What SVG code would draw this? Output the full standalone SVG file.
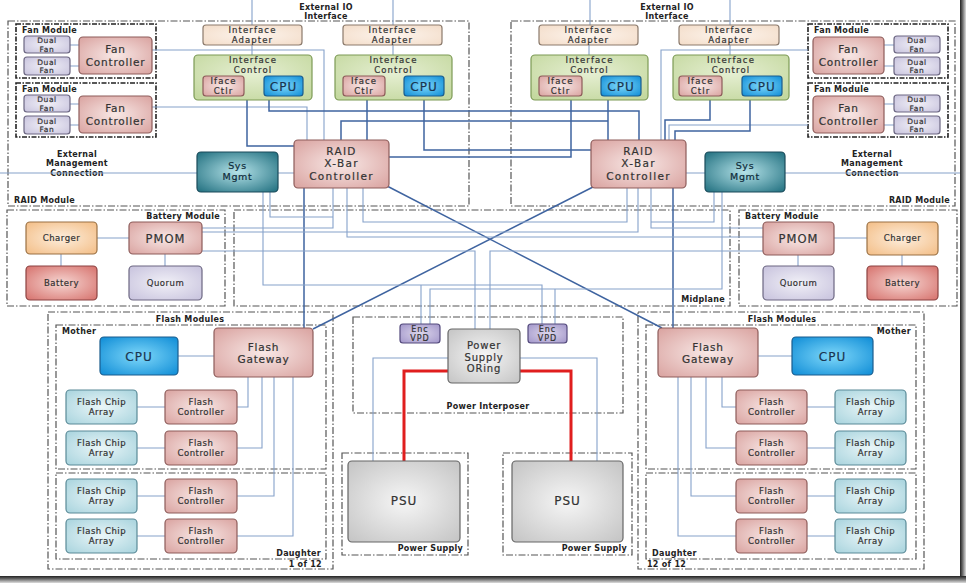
<svg xmlns="http://www.w3.org/2000/svg" width="967" height="586" viewBox="0 0 967 586">
<defs>
<radialGradient id="gPink" cx="50%" cy="50%" r="70%"><stop offset="0" stop-color="#f8e8e6"/><stop offset="1" stop-color="#d9a29f"/></radialGradient>
<radialGradient id="gLav" cx="50%" cy="50%" r="70%"><stop offset="0" stop-color="#f1f0f7"/><stop offset="1" stop-color="#c7c2dd"/></radialGradient>
<radialGradient id="gPeach" cx="50%" cy="50%" r="70%"><stop offset="0" stop-color="#fdf5ee"/><stop offset="1" stop-color="#f3dcc8"/></radialGradient>
<radialGradient id="gGreen" cx="50%" cy="40%" r="70%"><stop offset="0" stop-color="#e6efd3"/><stop offset="1" stop-color="#c4d89f"/></radialGradient>
<radialGradient id="gBlue" cx="50%" cy="50%" r="70%"><stop offset="0" stop-color="#7fd8fa"/><stop offset="1" stop-color="#0e8cd6"/></radialGradient>
<radialGradient id="gTeal" cx="50%" cy="50%" r="70%"><stop offset="0" stop-color="#b4e2e8"/><stop offset="1" stop-color="#1f6e7e"/></radialGradient>
<radialGradient id="gOrange" cx="50%" cy="50%" r="70%"><stop offset="0" stop-color="#fdeedd"/><stop offset="1" stop-color="#f3bd85"/></radialGradient>
<radialGradient id="gRed" cx="50%" cy="50%" r="70%"><stop offset="0" stop-color="#f6d6d2"/><stop offset="1" stop-color="#d6716c"/></radialGradient>
<radialGradient id="gCyan" cx="50%" cy="50%" r="70%"><stop offset="0" stop-color="#eaf6f8"/><stop offset="1" stop-color="#a7d3dd"/></radialGradient>
<radialGradient id="gGray" cx="50%" cy="50%" r="70%"><stop offset="0" stop-color="#f6f6f6"/><stop offset="1" stop-color="#c4c4c4"/></radialGradient>
<radialGradient id="gVpd" cx="50%" cy="50%" r="70%"><stop offset="0" stop-color="#dcd6ec"/><stop offset="1" stop-color="#a195c9"/></radialGradient>
<linearGradient id="gFrameB" x1="0" y1="0" x2="0" y2="1"><stop offset="0" stop-color="#222"/><stop offset="0.4" stop-color="#666"/><stop offset="1" stop-color="#ddd"/></linearGradient>
<linearGradient id="gFrameR" x1="0" y1="0" x2="1" y2="0"><stop offset="0" stop-color="#222"/><stop offset="0.4" stop-color="#666"/><stop offset="1" stop-color="#ddd"/></linearGradient>
</defs>
<style>
text{font-family:"DejaVu Sans","Liberation Sans",sans-serif;fill:#333;text-anchor:middle;stroke:#333;stroke-width:0.2}
.lbl{font-size:8px;font-weight:bold;fill:#222;stroke:none;letter-spacing:0.3px}
.st{text-anchor:start}
.en{text-anchor:end}
.s85{font-size:8.5px;letter-spacing:1.1px}
.df{font-size:7.5px;letter-spacing:0.6px}
.vp{font-size:8px;letter-spacing:1px}
.b9{font-size:8.5px;letter-spacing:0.5px}
.b11{font-size:10.5px;letter-spacing:0.8px}
.b12{font-size:10.5px;letter-spacing:1.3px}
.pm{font-size:11.5px;letter-spacing:1px}
.cpu{font-size:12px;letter-spacing:1px;fill:#1a3550;stroke:#1a3550}
.sm{font-size:9.5px;letter-spacing:0.7px;fill:#0f2c3a;stroke:#0f2c3a}
.pink{fill:url(#gPink);stroke:#8d5c5a;stroke-width:1.2}
.lav{fill:url(#gLav);stroke:#6c6782;stroke-width:1.2}
.peach{fill:url(#gPeach);stroke:#8b7a6c;stroke-width:1.2}
.green{fill:url(#gGreen);stroke:#7c9a55;stroke-width:1.2}
.blue{fill:url(#gBlue);stroke:#1b5d8e;stroke-width:1.2}
.teal{fill:url(#gTeal);stroke:#1b4b5a;stroke-width:1.2}
.orange{fill:url(#gOrange);stroke:#9a7144;stroke-width:1.2}
.red{fill:url(#gRed);stroke:#8c4342;stroke-width:1.2}
.cyan{fill:url(#gCyan);stroke:#5a8a97;stroke-width:1.2}
.gray{fill:url(#gGray);stroke:#666;stroke-width:1.2}
.vpd{fill:url(#gVpd);stroke:#544a7c;stroke-width:1.2}
.cont{fill:none;stroke:#555;stroke-width:1.2;stroke-dasharray:7 2 1.5 2}
.fan{fill:none;stroke:#222;stroke-width:1.6;stroke-dasharray:5 1.5 1.5 1.5}
.bus{fill:none;stroke:#3f64a0;stroke-width:1.5}
.thin{fill:none;stroke:#86a2ca;stroke-width:1.1}
.pwr{fill:none;stroke:#e01e1e;stroke-width:3}
</style>
<rect width="967" height="586" fill="#fff"/>

<g id="containers">
<rect class="cont" x="8" y="21" width="461" height="185"/>
<rect class="cont" x="511" y="21" width="444" height="185"/>
<text class="lbl" x="326" y="10">External IO</text><text class="lbl" x="326" y="19">Interface</text>
<text class="lbl" x="667" y="10">External IO</text><text class="lbl" x="667" y="19">Interface</text>
<text class="lbl st" x="14" y="203">RAID Module</text>
<text class="lbl en" x="950" y="203">RAID Module</text>
<text class="lbl" x="77" y="156.5">External</text><text class="lbl" x="77" y="166">Management</text><text class="lbl" x="77" y="175.5">Connection</text>
<text class="lbl" x="872" y="156.5">External</text><text class="lbl" x="872" y="166">Management</text><text class="lbl" x="872" y="175.5">Connection</text>
<rect class="fan" x="16" y="24" width="140" height="54"/><text class="lbl st" x="22" y="33">Fan Module</text>
<rect class="fan" x="16" y="83" width="140" height="54"/><text class="lbl st" x="22" y="92">Fan Module</text>
<rect class="fan" x="808" y="24" width="140" height="54"/><text class="lbl st" x="814" y="33">Fan Module</text>
<rect class="fan" x="808" y="83" width="140" height="54"/><text class="lbl st" x="814" y="92">Fan Module</text>
<rect class="cont" x="7" y="210" width="218" height="96"/><text class="lbl en" x="220" y="219">Battery Module</text>
<rect class="cont" x="739" y="210" width="218" height="96"/><text class="lbl st" x="745" y="219">Battery Module</text>
<rect class="cont" x="234" y="210" width="496" height="96"/><text class="lbl en" x="725" y="302">Midplane</text>
<rect class="cont" x="48" y="312" width="285" height="257"/><text class="lbl" x="190" y="322">Flash Modules</text>
<rect class="cont" x="56" y="325" width="270" height="144"/><text class="lbl st" x="62" y="334">Mother</text>
<rect class="cont" x="56" y="473" width="270" height="86"/><text class="lbl en" x="321" y="556">Daughter</text>
<text class="lbl en" x="322" y="567">1 of 12</text>
<rect class="cont" x="638" y="312" width="286" height="257"/><text class="lbl" x="782" y="322">Flash Modules</text>
<rect class="cont" x="646" y="325" width="270" height="144"/><text class="lbl en" x="911" y="334">Mother</text>
<rect class="cont" x="646" y="473" width="270" height="86"/><text class="lbl st" x="652" y="556">Daughter</text>
<text class="lbl st" x="647" y="567">12 of 12</text>
<rect class="cont" x="353" y="317" width="270" height="96"/><text class="lbl" x="488" y="409">Power Interposer</text>
<rect class="cont" x="342" y="453" width="126" height="102"/><text class="lbl en" x="463" y="551">Power Supply</text>
<rect class="cont" x="503" y="453" width="129" height="102"/><text class="lbl en" x="627" y="551">Power Supply</text>
</g>

<g id="connectors">
<path class="thin" d="M252,0V25M393,0V25M590,0V25M730,0V25"/>
<path class="thin" d="M252,45V55M393,45V55M589,45V55M730,45V55"/>
<path class="thin" d="M244,86H264M385,86H404M582,86H601M722,86H742"/>
<path class="thin" d="M70,45H79M70,66H79M70,104H79M70,125H79M884,45H894M884,66H894M884,104H894M884,125H894"/>
<path class="thin" d="M152,50H324V140M152,107H307V140"/>
<path class="thin" d="M808,50H661V140M808,125H669V140"/>
<path class="bus" d="M247,100V146H294"/>
<path class="bus" d="M269,100V111H639V140"/>
<path class="bus" d="M367,100V140"/>
<path class="bus" d="M424,100V150H591"/>
<path class="bus" d="M341,140V121H608"/>
<path class="bus" d="M608,100V140"/>
<path class="bus" d="M571,100V157H389"/>
<path class="bus" d="M710,100V120H665V140"/>
<path class="bus" d="M750,100V131H675V140"/>
<path class="thin" d="M0,173H197M278,173H294M686,173H705M785,173H960"/>
<path class="bus" d="M304,188V328M673,188V328M387,186L662,328M593,187L313,329"/>
<path class="thin" d="M270,192V217H333M333,188V228H202"/>
<path class="thin" d="M363,188V222H627V188"/>
<path class="thin" d="M347,188V237H763"/>
<path class="thin" d="M638,188V232H202"/>
<path class="thin" d="M651,188V228H763M714,192V222H651"/>
<path class="thin" d="M202,251H475V329M763,251H490V329"/>
<path class="thin" d="M263,192V285H542V324M421,285V324"/>
<path class="thin" d="M722,192V289H430V324M555,289V324"/>
<path class="thin" d="M97,238H129M61,254V266M165,254V266M834,238H867M798,255V266M902,255V266"/>
<path class="thin" d="M178,356H214M758,356H792"/>
<path class="thin" d="M248,377V407H237M262,377V448H237M274,377V496H237M293,377V536H237"/>
<path class="thin" d="M137,407H165M137,448H165M137,496H165M137,536H165"/>
<path class="thin" d="M722,377V407H736M706,377V448H736M691,377V496H736M678,377V536H736"/>
<path class="thin" d="M807,407H835M807,448H835M807,496H835M807,536H835"/>
<path class="thin" d="M448,358H373V461M520,358H597V461"/>
<path class="pwr" d="M448,371H404V461M520,371H571V461"/>
</g>

<g id="adapterL1"><rect class="peach" x="203" y="25" width="99" height="20" rx="3"/><text class="s85" x="252.5" y="33">Interface</text><text class="s85" x="252.5" y="43">Adapter</text></g>
<g id="adapterL2"><rect class="peach" x="343" y="25" width="99" height="20" rx="3"/><text class="s85" x="392.5" y="33">Interface</text><text class="s85" x="392.5" y="43">Adapter</text></g>
<g id="adapterR1"><rect class="peach" x="539" y="25" width="99" height="20" rx="3"/><text class="s85" x="588.5" y="33">Interface</text><text class="s85" x="588.5" y="43">Adapter</text></g>
<g id="adapterR2"><rect class="peach" x="679" y="25" width="100" height="20" rx="3"/><text class="s85" x="729" y="33">Interface</text><text class="s85" x="729" y="43">Adapter</text></g>

<g id="icL1"><rect class="green" x="194" y="55" width="118" height="45" rx="4"/><text class="s85" x="253" y="63">Interface</text><text class="s85" x="253" y="73">Control</text>
<rect class="pink" x="203" y="76" width="41" height="20" rx="3"/><text class="s85" x="223.5" y="84">Iface</text><text class="s85" x="223.5" y="94">Ctlr</text>
<rect class="blue" x="264" y="76" width="39" height="20" rx="3"/><text class="cpu" x="283.5" y="90.5">CPU</text></g>
<g id="icL2"><rect class="green" x="335" y="55" width="117" height="45" rx="4"/><text class="s85" x="393.5" y="63">Interface</text><text class="s85" x="393.5" y="73">Control</text>
<rect class="pink" x="343" y="76" width="42" height="20" rx="3"/><text class="s85" x="364" y="84">Iface</text><text class="s85" x="364" y="94">Ctlr</text>
<rect class="blue" x="404" y="76" width="40" height="20" rx="3"/><text class="cpu" x="424" y="90.5">CPU</text></g>
<g id="icR1"><rect class="green" x="531" y="55" width="117" height="45" rx="4"/><text class="s85" x="589.5" y="63">Interface</text><text class="s85" x="589.5" y="73">Control</text>
<rect class="pink" x="539" y="76" width="43" height="20" rx="3"/><text class="s85" x="560.5" y="84">Iface</text><text class="s85" x="560.5" y="94">Ctlr</text>
<rect class="blue" x="601" y="76" width="40" height="20" rx="3"/><text class="cpu" x="621" y="90.5">CPU</text></g>
<g id="icR2"><rect class="green" x="673" y="55" width="116" height="45" rx="4"/><text class="s85" x="731" y="63">Interface</text><text class="s85" x="731" y="73">Control</text>
<rect class="pink" x="679" y="76" width="43" height="20" rx="3"/><text class="s85" x="700.5" y="84">Iface</text><text class="s85" x="700.5" y="94">Ctlr</text>
<rect class="blue" x="742" y="76" width="40" height="20" rx="3"/><text class="cpu" x="762" y="90.5">CPU</text></g>

<g id="fanL1"><rect class="lav" x="24" y="36" width="46" height="17" rx="3"/><text class="df" x="47" y="43">Dual</text><text class="df" x="47" y="51.7">Fan</text>
<rect class="lav" x="24" y="57" width="46" height="18" rx="3"/><text class="df" x="47" y="64.5">Dual</text><text class="df" x="47" y="73.2">Fan</text>
<rect class="pink" x="79" y="37" width="73" height="37" rx="4"/><text class="b11" x="115.5" y="53">Fan</text><text class="b11" x="115.5" y="65.5">Controller</text></g>
<g id="fanL2"><rect class="lav" x="24" y="95" width="46" height="17" rx="3"/><text class="df" x="47" y="102">Dual</text><text class="df" x="47" y="110.7">Fan</text>
<rect class="lav" x="24" y="116" width="46" height="18" rx="3"/><text class="df" x="47" y="123.5">Dual</text><text class="df" x="47" y="132.2">Fan</text>
<rect class="pink" x="79" y="96" width="73" height="37" rx="4"/><text class="b11" x="115.5" y="112">Fan</text><text class="b11" x="115.5" y="124.5">Controller</text></g>
<g id="fanR1"><rect class="pink" x="813" y="37" width="71" height="37" rx="4"/><text class="b11" x="848.5" y="53">Fan</text><text class="b11" x="848.5" y="65.5">Controller</text>
<rect class="lav" x="894" y="36" width="46" height="17" rx="3"/><text class="df" x="917" y="43">Dual</text><text class="df" x="917" y="51.7">Fan</text>
<rect class="lav" x="894" y="57" width="46" height="18" rx="3"/><text class="df" x="917" y="64.5">Dual</text><text class="df" x="917" y="73.2">Fan</text></g>
<g id="fanR2"><rect class="pink" x="813" y="96" width="71" height="37" rx="4"/><text class="b11" x="848.5" y="112">Fan</text><text class="b11" x="848.5" y="124.5">Controller</text>
<rect class="lav" x="894" y="95" width="46" height="17" rx="3"/><text class="df" x="917" y="102">Dual</text><text class="df" x="917" y="110.7">Fan</text>
<rect class="lav" x="894" y="116" width="46" height="18" rx="3"/><text class="df" x="917" y="123.5">Dual</text><text class="df" x="917" y="132.2">Fan</text></g>

<g id="sysMgmtL"><rect class="teal" x="197" y="152" width="81" height="40" rx="4"/><text class="sm" x="237.5" y="168.5">Sys</text><text class="sm" x="237.5" y="180">Mgmt</text></g>
<g id="sysMgmtR"><rect class="teal" x="705" y="152" width="80" height="40" rx="4"/><text class="sm" x="745" y="168.5">Sys</text><text class="sm" x="745" y="180">Mgmt</text></g>
<g id="xbarL"><rect class="pink" x="294" y="140" width="95" height="48" rx="4"/><text class="b12" x="341.5" y="155">RAID</text><text class="b12" x="341.5" y="167.3">X-Bar</text><text class="b12" x="341.5" y="179.6">Controller</text></g>
<g id="xbarR"><rect class="pink" x="591" y="140" width="95" height="48" rx="4"/><text class="b12" x="638.5" y="155">RAID</text><text class="b12" x="638.5" y="167.3">X-Bar</text><text class="b12" x="638.5" y="179.6">Controller</text></g>

<g id="batteryL"><rect class="orange" x="26" y="222" width="71" height="32" rx="4"/><text class="b9" x="61.5" y="241">Charger</text>
<rect class="red" x="26" y="266" width="71" height="34" rx="4"/><text class="b9" x="61.5" y="286">Battery</text>
<rect class="pink" x="129" y="222" width="73" height="32" rx="4"/><text class="pm" x="165.5" y="242.5">PMOM</text>
<rect class="lav" x="129" y="266" width="73" height="34" rx="4"/><text class="b9" x="165.5" y="286">Quorum</text></g>
<g id="batteryR"><rect class="pink" x="763" y="222" width="71" height="33" rx="4"/><text class="pm" x="798.5" y="242.5">PMOM</text>
<rect class="lav" x="763" y="266" width="71" height="34" rx="4"/><text class="b9" x="798.5" y="286">Quorum</text>
<rect class="orange" x="867" y="222" width="71" height="33" rx="4"/><text class="b9" x="902.5" y="241">Charger</text>
<rect class="red" x="867" y="266" width="71" height="34" rx="4"/><text class="b9" x="902.5" y="286">Battery</text></g>

<g id="flashL"><rect class="blue" x="100" y="337" width="78" height="38" rx="4"/><text class="cpu" x="139" y="360.5">CPU</text>
<rect class="pink" x="214" y="328" width="99" height="49" rx="4"/><text class="b11" x="263.5" y="350.5">Flash</text><text class="b11" x="263.5" y="363">Gateway</text>
<rect class="cyan" x="66" y="390" width="71" height="34" rx="4"/><text class="b9" x="101.5" y="404.5">Flash Chip</text><text class="b9" x="101.5" y="414.5">Array</text>
<rect class="pink" x="165" y="390" width="72" height="34" rx="4"/><text class="b9" x="201" y="404.5">Flash</text><text class="b9" x="201" y="414.5">Controller</text>
<rect class="cyan" x="66" y="431" width="71" height="34" rx="4"/><text class="b9" x="101.5" y="445.5">Flash Chip</text><text class="b9" x="101.5" y="455.5">Array</text>
<rect class="pink" x="165" y="431" width="72" height="34" rx="4"/><text class="b9" x="201" y="445.5">Flash</text><text class="b9" x="201" y="455.5">Controller</text>
<rect class="cyan" x="66" y="479" width="71" height="34" rx="4"/><text class="b9" x="101.5" y="493.5">Flash Chip</text><text class="b9" x="101.5" y="503.5">Array</text>
<rect class="pink" x="165" y="479" width="72" height="34" rx="4"/><text class="b9" x="201" y="493.5">Flash</text><text class="b9" x="201" y="503.5">Controller</text>
<rect class="cyan" x="66" y="519" width="71" height="34" rx="4"/><text class="b9" x="101.5" y="533.5">Flash Chip</text><text class="b9" x="101.5" y="543.5">Array</text>
<rect class="pink" x="165" y="519" width="72" height="34" rx="4"/><text class="b9" x="201" y="533.5">Flash</text><text class="b9" x="201" y="543.5">Controller</text></g>

<g id="flashR"><rect class="pink" x="658" y="328" width="100" height="49" rx="4"/><text class="b11" x="708" y="350.5">Flash</text><text class="b11" x="708" y="363">Gateway</text>
<rect class="blue" x="792" y="337" width="81" height="38" rx="4"/><text class="cpu" x="832.5" y="360.5">CPU</text>
<rect class="pink" x="736" y="390" width="71" height="34" rx="4"/><text class="b9" x="771.5" y="404.5">Flash</text><text class="b9" x="771.5" y="414.5">Controller</text>
<rect class="cyan" x="835" y="390" width="71" height="34" rx="4"/><text class="b9" x="870.5" y="404.5">Flash Chip</text><text class="b9" x="870.5" y="414.5">Array</text>
<rect class="pink" x="736" y="431" width="71" height="34" rx="4"/><text class="b9" x="771.5" y="445.5">Flash</text><text class="b9" x="771.5" y="455.5">Controller</text>
<rect class="cyan" x="835" y="431" width="71" height="34" rx="4"/><text class="b9" x="870.5" y="445.5">Flash Chip</text><text class="b9" x="870.5" y="455.5">Array</text>
<rect class="pink" x="736" y="479" width="71" height="34" rx="4"/><text class="b9" x="771.5" y="493.5">Flash</text><text class="b9" x="771.5" y="503.5">Controller</text>
<rect class="cyan" x="835" y="479" width="71" height="34" rx="4"/><text class="b9" x="870.5" y="493.5">Flash Chip</text><text class="b9" x="870.5" y="503.5">Array</text>
<rect class="pink" x="736" y="519" width="71" height="34" rx="4"/><text class="b9" x="771.5" y="533.5">Flash</text><text class="b9" x="771.5" y="543.5">Controller</text>
<rect class="cyan" x="835" y="519" width="71" height="34" rx="4"/><text class="b9" x="870.5" y="533.5">Flash Chip</text><text class="b9" x="870.5" y="543.5">Array</text></g>

<g id="power"><rect class="vpd" x="400" y="324" width="40" height="19" rx="3"/><text class="vp" x="420" y="331.5">Enc</text><text class="vp" x="420" y="341">VPD</text>
<rect class="vpd" x="528" y="324" width="39" height="19" rx="3"/><text class="vp" x="547.5" y="331.5">Enc</text><text class="vp" x="547.5" y="341">VPD</text>
<rect class="gray" x="448" y="329" width="72" height="54" rx="4"/><text class="b11" style="font-size:10px" x="484" y="349">Power</text><text class="b11" style="font-size:10px" x="484" y="360.5">Supply</text><text class="b11" style="font-size:10px" x="484" y="372">ORing</text>
<rect class="gray" x="348" y="461" width="112" height="81" rx="4"/><text class="cpu" style="fill:#333;stroke:#333" x="404" y="505">PSU</text>
<rect class="gray" x="512" y="461" width="111" height="81" rx="4"/><text class="cpu" style="fill:#333;stroke:#333" x="567.5" y="505">PSU</text></g>

<g id="frame"><rect x="960" y="0" width="6" height="583" fill="url(#gFrameR)"/><rect x="0" y="576" width="966" height="7" fill="url(#gFrameB)"/></g>
</svg>
